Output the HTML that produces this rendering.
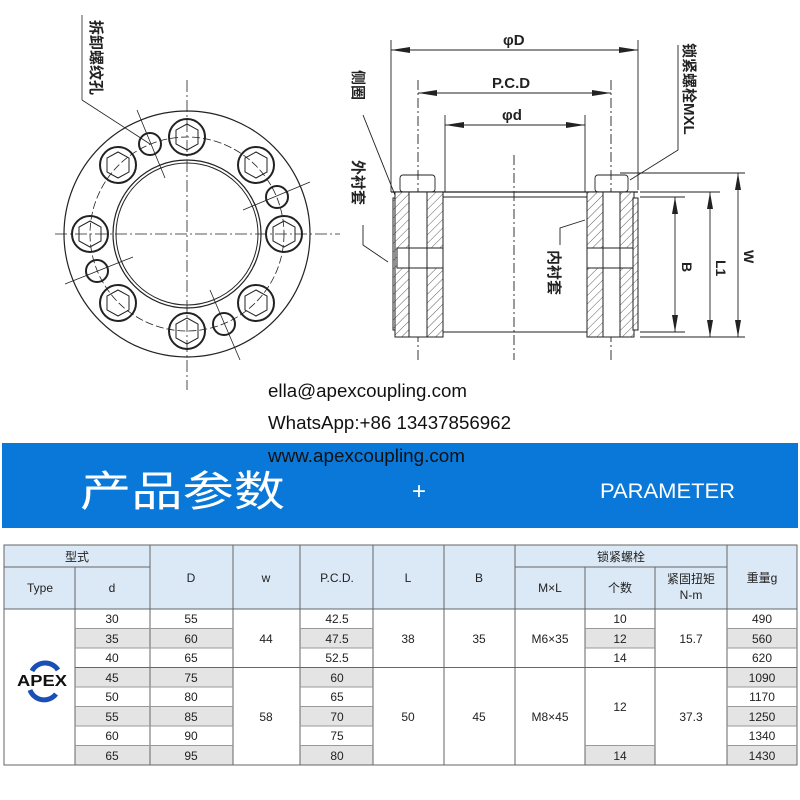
<!DOCTYPE html>
<html><head><meta charset="utf-8"><style>
html,body{margin:0;padding:0;background:#fff;}
svg{display:block;}
.t{font-family:"Liberation Sans","Noto Sans CJK SC",sans-serif;}
</style></head><body>
<svg width="800" height="800" viewBox="0 0 800 800" xmlns="http://www.w3.org/2000/svg" class="t">
<defs>
<pattern id="h" width="6" height="6" patternUnits="userSpaceOnUse" patternTransform="rotate(45)">
<rect width="6" height="6" fill="#fff"/><line x1="0" y1="0" x2="0" y2="6" stroke="#333" stroke-width="0.8"/></pattern>
</defs>
<rect width="800" height="800" fill="#fff"/>
<g stroke="#222" fill="none">
<line x1="187" y1="80" x2="187" y2="390" stroke-dasharray="12,3,2,3" stroke-width="0.8"/>
<line x1="55" y1="234" x2="340" y2="234" stroke-dasharray="12,3,2,3" stroke-width="0.8"/>
<circle cx="187" cy="234" r="123" stroke-width="1.2"/>
<circle cx="187" cy="234" r="97" stroke-width="0.8" stroke-dasharray="8,3"/>
<circle cx="187" cy="234" r="74" stroke-width="1.2"/>
<circle cx="187" cy="234" r="71" stroke-width="1"/>
<g stroke-width="2">
<circle cx="187" cy="137" r="18"/><circle cx="256" cy="165" r="18"/><circle cx="284" cy="234" r="18"/><circle cx="256" cy="303" r="18"/>
<circle cx="187" cy="331" r="18"/><circle cx="118" cy="303" r="18"/><circle cx="90" cy="234" r="18"/><circle cx="118" cy="165" r="18"/>
</g>
<g stroke-width="1">
<polygon points="187,124 198,130 198,144 187,150 176,144 176,130"/>
<polygon points="256,152 267,158 267,172 256,178 245,172 245,158"/>
<polygon points="284,221 295,227 295,241 284,247 273,241 273,227"/>
<polygon points="256,290 267,296 267,310 256,316 245,310 245,296"/>
<polygon points="187,318 198,324 198,338 187,344 176,338 176,324"/>
<polygon points="118,290 129,296 129,310 118,316 107,310 107,296"/>
<polygon points="90,221 101,227 101,241 90,247 79,241 79,227"/>
<polygon points="118,152 129,158 129,172 118,178 107,172 107,158"/>
</g>
<g stroke-width="2">
<circle cx="150" cy="144" r="11"/><circle cx="277" cy="197" r="11"/><circle cx="97" cy="271" r="11"/><circle cx="224" cy="324" r="11"/>
</g>
<g stroke-width="0.8">
<line x1="137" y1="110" x2="165" y2="178"/><line x1="243" y1="210" x2="310" y2="182"/>
<line x1="65" y1="284" x2="133" y2="257"/><line x1="210" y1="290" x2="240" y2="360"/>
<line x1="82" y1="15" x2="82" y2="100"/><line x1="82" y1="100" x2="150" y2="144"/>
</g>
</g>
<g fill="#222" font-size="15" font-weight="bold">
<text x="91" y="20" transform="rotate(90 91 20)">拆卸螺纹孔</text>
<text x="353" y="70" transform="rotate(90 353 70)">侧圈</text>
<text x="353" y="160" transform="rotate(90 353 160)">外衬套</text>
<text x="549" y="250" transform="rotate(90 549 250)">内衬套</text>
<text x="684" y="43" transform="rotate(90 684 43)">锁紧螺栓MXL</text>
</g>
<g stroke="#222" fill="none" stroke-width="0.9">
<line x1="391" y1="40" x2="391" y2="192"/><line x1="638" y1="40" x2="638" y2="190"/>
<line x1="391" y1="50" x2="638" y2="50"/>
<line x1="418" y1="80" x2="418" y2="360" stroke-dasharray="10,3,2,3"/><line x1="611" y1="80" x2="611" y2="360" stroke-dasharray="10,3,2,3"/>
<line x1="418" y1="93" x2="611" y2="93"/>
<line x1="445" y1="115" x2="445" y2="192"/><line x1="585" y1="115" x2="585" y2="192"/>
<line x1="445" y1="125" x2="585" y2="125"/>
<line x1="514" y1="155" x2="514" y2="360" stroke-dasharray="10,3,2,3"/>
<line x1="391" y1="192" x2="638" y2="192" stroke-width="1.2"/>
<line x1="443" y1="197" x2="587" y2="197"/><line x1="443" y1="332" x2="587" y2="332"/>
<rect x="400" y="175" width="35" height="17" rx="3"/><rect x="595" y="175" width="33" height="17" rx="3"/>
</g>
<g stroke="#222" stroke-width="1">
<rect x="393" y="198" width="5" height="132" fill="url(#h)"/>
<rect x="395" y="192" width="14" height="145" fill="url(#h)"/>
<rect x="427" y="192" width="16" height="145" fill="url(#h)"/>
<rect x="409" y="192" width="18" height="145" fill="#fff"/>
<rect x="587" y="192" width="16" height="145" fill="url(#h)"/>
<rect x="620" y="192" width="14" height="145" fill="url(#h)"/>
<rect x="633" y="198" width="5" height="132" fill="url(#h)"/>
<rect x="603" y="192" width="17" height="145" fill="#fff"/>
<rect x="397" y="248" width="46" height="20" fill="#fff"/>
<rect x="587" y="248" width="46" height="20" fill="#fff"/>
<line x1="409" y1="192" x2="409" y2="337"/><line x1="427" y1="192" x2="427" y2="337"/>
<line x1="603" y1="192" x2="603" y2="337"/><line x1="620" y1="192" x2="620" y2="337"/>
<line x1="395" y1="337" x2="443" y2="337"/><line x1="587" y1="337" x2="634" y2="337"/>
</g>
<g stroke="#222" fill="none" stroke-width="0.9">
<line x1="620" y1="173" x2="745" y2="173"/><line x1="640" y1="192" x2="720" y2="192"/>
<line x1="640" y1="197" x2="685" y2="197"/><line x1="640" y1="332" x2="685" y2="332"/>
<line x1="640" y1="337" x2="745" y2="337"/>
<line x1="675" y1="197" x2="675" y2="332"/><line x1="710" y1="192" x2="710" y2="337"/><line x1="738" y1="173" x2="738" y2="337"/>
<polyline points="363,115 395,195"/><polyline points="363,225 363,245 388,262"/>
<polyline points="560,245 560,228 585,220"/><polyline points="678,45 678,150 630,180"/>
</g>
<g fill="#222">
<polygon points="391,50 410,47 410,53"/><polygon points="638,50 619,47 619,53"/>
<polygon points="418,93 437,90 437,96"/><polygon points="611,93 592,90 592,96"/>
<polygon points="445,125 464,122 464,128"/><polygon points="585,125 566,122 566,128"/>
<polygon points="675,197 672,214 678,214"/><polygon points="675,332 672,315 678,315"/>
<polygon points="710,192 707,209 713,209"/><polygon points="710,337 707,320 713,320"/>
<polygon points="738,173 735,190 741,190"/><polygon points="738,337 735,320 741,320"/>
</g>
<g fill="#222" font-size="15" font-weight="bold">
<text x="503" y="45">φD</text><text x="492" y="88">P.C.D</text><text x="502" y="120">φd</text>
<text x="682" y="262" transform="rotate(90 682 262)" font-size="14">B</text>
<text x="716" y="260" transform="rotate(90 716 260)" font-size="14">L1</text>
<text x="744" y="250" transform="rotate(90 744 250)" font-size="14">W</text>
</g>
<g fill="#111" font-size="18">
<text x="268" y="397" textLength="199" lengthAdjust="spacingAndGlyphs">ella@apexcoupling.com</text>
<text x="268" y="429" textLength="243" lengthAdjust="spacingAndGlyphs">WhatsApp:+86 13437856962</text>
</g>
<rect x="2" y="443" width="796" height="85" fill="#0a78d8"/>
<text x="268" y="462" font-size="18" fill="#111" textLength="197" lengthAdjust="spacingAndGlyphs">www.apexcoupling.com</text>
<text x="80" y="506" font-size="42" fill="#fff" font-family="Noto Sans CJK SC,sans-serif" textLength="205" lengthAdjust="spacingAndGlyphs">产品参数</text>
<text x="412" y="499" font-size="24" fill="#fff">+</text>
<text x="600" y="498" font-size="21" fill="#fff" textLength="135" lengthAdjust="spacingAndGlyphs">PARAMETER</text>
<rect x="4" y="545" width="793" height="64" fill="#dbe8f5"/>
<g fill="#e4e4e4">
<rect x="75" y="628.5" width="75" height="19.5"/><rect x="150" y="628.5" width="83" height="19.5"/><rect x="300" y="628.5" width="73" height="19.5"/><rect x="585" y="628.5" width="70" height="19.5"/><rect x="727" y="628.5" width="70" height="19.5"/>
<rect x="75" y="667.5" width="75" height="19.5"/><rect x="150" y="667.5" width="83" height="19.5"/><rect x="300" y="667.5" width="73" height="19.5"/><rect x="727" y="667.5" width="70" height="19.5"/>
<rect x="75" y="706.5" width="75" height="19.5"/><rect x="150" y="706.5" width="83" height="19.5"/><rect x="300" y="706.5" width="73" height="19.5"/><rect x="727" y="706.5" width="70" height="19.5"/>
<rect x="75" y="745.5" width="75" height="19.5"/><rect x="150" y="745.5" width="83" height="19.5"/><rect x="300" y="745.5" width="73" height="19.5"/><rect x="585" y="745.5" width="70" height="19.5"/><rect x="727" y="745.5" width="70" height="19.5"/>
</g>
<g stroke="#666" stroke-width="1" fill="none">
<rect x="4" y="545" width="793" height="220"/>
<line x1="4" y1="567" x2="150" y2="567"/><line x1="515" y1="567" x2="727" y2="567"/>
<line x1="4" y1="609" x2="797" y2="609"/>
<line x1="75" y1="567" x2="75" y2="765"/><line x1="150" y1="545" x2="150" y2="765"/>
<line x1="233" y1="545" x2="233" y2="765"/><line x1="300" y1="545" x2="300" y2="765"/>
<line x1="373" y1="545" x2="373" y2="765"/><line x1="444" y1="545" x2="444" y2="765"/>
<line x1="515" y1="545" x2="515" y2="765"/><line x1="585" y1="567" x2="585" y2="765"/>
<line x1="655" y1="567" x2="655" y2="765"/><line x1="727" y1="545" x2="727" y2="765"/>
<g stroke="#999">
<line x1="75" y1="628.5" x2="233" y2="628.5"/><line x1="300" y1="628.5" x2="373" y2="628.5"/><line x1="585" y1="628.5" x2="655" y2="628.5"/><line x1="727" y1="628.5" x2="797" y2="628.5"/>
<line x1="75" y1="648" x2="233" y2="648"/><line x1="300" y1="648" x2="373" y2="648"/><line x1="585" y1="648" x2="655" y2="648"/><line x1="727" y1="648" x2="797" y2="648"/>
<line x1="75" y1="706.5" x2="233" y2="706.5"/><line x1="300" y1="706.5" x2="373" y2="706.5"/><line x1="727" y1="706.5" x2="797" y2="706.5"/>
<line x1="75" y1="687" x2="233" y2="687"/><line x1="300" y1="687" x2="373" y2="687"/><line x1="727" y1="687" x2="797" y2="687"/>
<line x1="75" y1="726" x2="233" y2="726"/><line x1="300" y1="726" x2="373" y2="726"/><line x1="727" y1="726" x2="797" y2="726"/>
<line x1="75" y1="745.5" x2="233" y2="745.5"/><line x1="300" y1="745.5" x2="373" y2="745.5"/><line x1="585" y1="745.5" x2="655" y2="745.5"/><line x1="727" y1="745.5" x2="797" y2="745.5"/>
</g>
<line x1="75" y1="667.5" x2="797" y2="667.5" stroke="#666"/>
</g>
<g fill="#222" font-size="12" text-anchor="middle">
<text x="77" y="561">型式</text><text x="621" y="561">锁紧螺栓</text>
<text x="40" y="592">Type</text><text x="112" y="592">d</text><text x="191" y="582">D</text><text x="266" y="582">w</text>
<text x="337" y="582">P.C.D.</text><text x="408" y="582">L</text><text x="479" y="582">B</text>
<text x="550" y="592">M×L</text><text x="620" y="592">个数</text><text x="691" y="583">紧固扭矩</text><text x="691" y="599">N-m</text><text x="762" y="582">重量g</text>
<text x="112" y="623">30</text><text x="112" y="643">35</text><text x="112" y="662">40</text><text x="112" y="682">45</text><text x="112" y="701">50</text><text x="112" y="721">55</text><text x="112" y="740">60</text><text x="112" y="760">65</text>
<text x="191" y="623">55</text><text x="191" y="643">60</text><text x="191" y="662">65</text><text x="191" y="682">75</text><text x="191" y="701">80</text><text x="191" y="721">85</text><text x="191" y="740">90</text><text x="191" y="760">95</text>
<text x="337" y="623">42.5</text><text x="337" y="643">47.5</text><text x="337" y="662">52.5</text><text x="337" y="682">60</text><text x="337" y="701">65</text><text x="337" y="721">70</text><text x="337" y="740">75</text><text x="337" y="760">80</text>
<text x="762" y="623">490</text><text x="762" y="643">560</text><text x="762" y="662">620</text><text x="762" y="682">1090</text><text x="762" y="701">1170</text><text x="762" y="721">1250</text><text x="762" y="740">1340</text><text x="762" y="760">1430</text>
<text x="620" y="623">10</text><text x="620" y="643">12</text><text x="620" y="662">14</text><text x="620" y="711">12</text><text x="620" y="760">14</text>
<text x="266" y="643">44</text><text x="408" y="643">38</text><text x="479" y="643">35</text><text x="550" y="643">M6×35</text><text x="691" y="643">15.7</text>
<text x="266" y="721">58</text><text x="408" y="721">50</text><text x="479" y="721">45</text><text x="550" y="721">M8×45</text><text x="691" y="721">37.3</text>
</g>
<path d="M32 671 A15 15 0 0 1 58 670" fill="none" stroke="#1a4fb5" stroke-width="5"/>
<path d="M30 690 A15 15 0 0 0 56 694" fill="none" stroke="#1a4fb5" stroke-width="5"/>
<text x="42" y="686" text-anchor="middle" font-size="16" font-weight="bold" fill="#111" textLength="50" lengthAdjust="spacingAndGlyphs">APEX</text>
</svg>
</body></html>
